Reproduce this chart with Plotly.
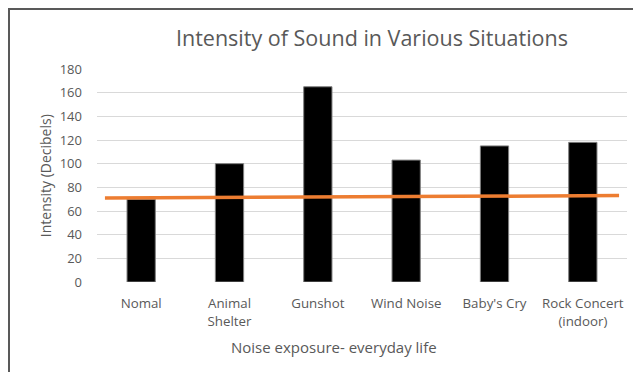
import plotly.graph_objects as go

categories = ["Nomal", "Animal<br>Shelter", "Gunshot", "Wind Noise", "Baby's Cry", "Rock Concert<br>(indoor)"]
intensity = [70, 100, 165, 103, 115, 118]
trend_values = [71, 73]
y_ticks = [0, 20, 40, 60, 80, 100, 120, 140, 160, 180]

TEXT = "#595959"
FONT = "Open Sans"
OFF = 8                      # browser body margin
PAGE_W, PAGE_H = 641, 372
W, H = PAGE_W - OFF, PAGE_H - OFF
# plot area in page pixels
PX0, PX1, PY0, PY1 = 97, 627, 69, 281.7
L, R, T, B = PX0 - OFF, PAGE_W - PX1, PY0 - OFF, PAGE_H - PY1
OVERHANG = 0.41

xs = list(range(len(categories)))
pw = PX1 - PX0
ph = PY1 - PY0

def px_x(p):
    return (p - PX0) / pw

def px_y(p):
    return (PY1 - p) / ph

fig = go.Figure()
fig.add_trace(go.Bar(
    x=xs, y=intensity, marker=dict(color="#000000", line=dict(color="#7f7f7f", width=1)),
    width=0.32, showlegend=False, hoverinfo="skip"))
fig.add_trace(go.Scatter(
    x=[xs[0] - OVERHANG, xs[-1] + OVERHANG], y=trend_values, mode="lines",
    line=dict(color="#ED7D31", width=3.5), showlegend=False, hoverinfo="skip"))

fig.update_layout(
    width=W, height=H,
    margin=dict(l=L, r=R, t=T, b=B, pad=0),
    paper_bgcolor="white", plot_bgcolor="white",
    font=dict(family=FONT, color=TEXT, size=13.3),
    xaxis=dict(range=[-0.5, len(categories) - 0.5], tickvals=xs, ticktext=categories,
               showgrid=False, zeroline=False, showline=False, ticks="", ticklabelstandoff=12,
               tickfont=dict(size=13.3, color=TEXT), fixedrange=True),
    yaxis=dict(range=[0, 180], tickvals=y_ticks, showgrid=True, gridcolor="#d9d9d9",
               gridwidth=1, zeroline=False, showline=False, ticks="", ticklabelstandoff=14,
               tickfont=dict(size=13, color=TEXT), fixedrange=True),
    annotations=[
        dict(text="Intensity of Sound in Various Situations", x=px_x(372), y=px_y(38),
             xref="paper", yref="paper", showarrow=False, xanchor="center", yanchor="middle",
             font=dict(size=21.5, color=TEXT, family=FONT)),
        dict(text="Noise exposure- everyday life", x=px_x(334), y=px_y(347),
             xref="paper", yref="paper", showarrow=False, xanchor="center", yanchor="middle",
             font=dict(size=15, color=TEXT, family=FONT)),
        dict(text="Intensity (Decibels)", x=px_x(45), y=px_y(176), textangle=-90,
             xref="paper", yref="paper", showarrow=False, xanchor="center", yanchor="middle",
             font=dict(size=14, color=TEXT, family=FONT)),
    ],
    shapes=[
        dict(type="line", xref="paper", yref="paper", x0=px_x(OFF), x1=px_x(PAGE_W + 5),
             y0=px_y(OFF + 1), y1=px_y(OFF + 1), line=dict(color="#595959", width=2)),
        dict(type="line", xref="paper", yref="paper", x0=px_x(OFF + 1), x1=px_x(OFF + 1),
             y0=px_y(OFF), y1=px_y(PAGE_H + 5), line=dict(color="#595959", width=2)),
    ],
)

fig.write_html("out.html")
